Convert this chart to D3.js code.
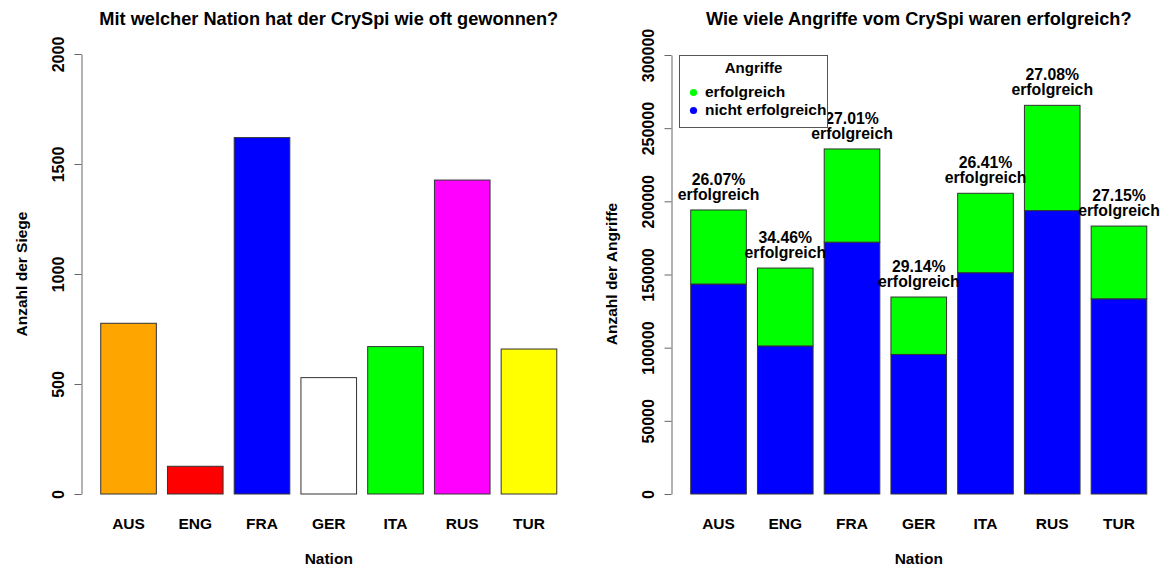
<!DOCTYPE html>
<html>
<head>
<meta charset="utf-8">
<script src="https://cdn.jsdelivr.net/npm/d3@7"></script>
<style>
  html, body { margin: 0; padding: 0; background: #fff; }
  svg { display: block; }
  text { font-family: "Liberation Sans", Arial, Helvetica, sans-serif; font-weight: bold; fill: #000; }
</style>
</head>
<body>
<svg id="chart" width="1168" height="567"></svg>
<script>
// Nationen und Siege des CrySpi
const nationen = ["AUS", "ENG", "FRA", "GER", "ITA", "RUS", "TUR"];
const siege = [776, 126, 1620, 529, 670, 1427, 659];
const siegFarben = ["#ffa500", "#ff0000", "#0000ff", "#ffffff", "#00ff00", "#ff00ff", "#ffff00"];
const siegTicks = [0, 500, 1000, 1500, 2000];

// Angriffe gesamt je Nation und Anteil erfolgreicher Angriffe (in Prozent)
const angriffeGesamt = [194100, 154400, 235800, 134600, 205500, 265600, 183100];
const erfolgsquote = [26.07, 34.46, 27.01, 29.14, 26.41, 27.08, 27.15];
const angriffTicks = [0, 50000, 100000, 150000, 200000, 250000, 300000];
const legendenEintraege = ["erfolgreich", "nicht erfolgreich"];
const legendenFarben = ["#00ff00", "#0000ff"];

const svg = d3.select("#chart");
const plotTop = 54, plotBottom = 494;

function bandScale(left, right) {
  return d3.scaleBand()
    .domain(nationen)
    .range([left, right])
    .paddingInner(1 / 6)
    .paddingOuter(0.273);
}

function yAxis(g, scale, ticks, x) {
  const ax = d3.axisLeft(scale).tickValues(ticks).tickSize(7).tickSizeOuter(0)
    .tickFormat(d3.format("d"));
  g.attr("transform", `translate(${x},0)`).call(ax);
  g.select(".domain").attr("stroke", "#666");
  g.selectAll(".tick line").attr("stroke", "#666");
  g.selectAll(".tick text")
    .attr("x", null).attr("dy", null)
    .attr("transform", "translate(-18,0) rotate(-90)")
    .attr("text-anchor", "middle")
    .style("font-size", "16px");
  g.attr("font-family", null).attr("font-size", null);
}

function xLabels(scale, title) {
  svg.append("g").selectAll("text")
    .data(nationen).join("text")
    .attr("x", d => scale(d) + scale.bandwidth() / 2)
    .attr("y", 529)
    .attr("text-anchor", "middle")
    .style("font-size", "15.5px")
    .text(d => d);
  const [a, b] = scale.range();
  svg.append("text")
    .attr("x", (a + b) / 2).attr("y", 563.5)
    .attr("text-anchor", "middle")
    .style("font-size", "15.5px")
    .text(title);
}

function yTitle(x, text) {
  svg.append("text")
    .attr("transform", `translate(${x},${(plotTop + plotBottom) / 2}) rotate(-90)`)
    .attr("text-anchor", "middle")
    .style("font-size", "15.5px")
    .text(text);
}

function mainTitle(scale, text) {
  const [a, b] = scale.range();
  svg.append("text")
    .attr("x", (a + b) / 2).attr("y", 25)
    .attr("text-anchor", "middle")
    .style("font-size", "18.2px")
    .text(text);
}

// ---- Linkes Diagramm: Siege je Nation ----
const xL = bandScale(82.5, 575);
const yL = d3.scaleLinear().domain([0, 2000]).range([plotBottom, plotTop]);

svg.append("g").selectAll("rect")
  .data(nationen).join("rect")
  .attr("x", d => xL(d))
  .attr("width", xL.bandwidth())
  .attr("y", (d, i) => yL(siege[i]))
  .attr("height", (d, i) => yL(0) - yL(siege[i]))
  .attr("fill", (d, i) => siegFarben[i])
  .attr("stroke", "#333")
  .attr("stroke-width", 1);

yAxis(svg.append("g"), yL, siegTicks, 81.5);
xLabels(xL, "Nation");
yTitle(27, "Anzahl der Siege");
mainTitle(xL, "Mit welcher Nation hat der CrySpi wie oft gewonnen?");

// ---- Rechtes Diagramm: Angriffe gestapelt ----
const xR = bandScale(672.5, 1165);
const yR = d3.scaleLinear().domain([0, 300000]).range([plotBottom, 55]);

const stapel = nationen.map((n, i) => {
  const erfolgreich = angriffeGesamt[i] * erfolgsquote[i] / 100;
  return { nation: n, nichtErfolgreich: angriffeGesamt[i] - erfolgreich, erfolgreich: erfolgreich, quote: erfolgsquote[i] };
});
const series = d3.stack().keys(["nichtErfolgreich", "erfolgreich"])(stapel);
const stapelFarben = { nichtErfolgreich: "#0000ff", erfolgreich: "#00ff00" };

svg.append("g").selectAll("g")
  .data(series).join("g")
  .attr("fill", d => stapelFarben[d.key])
  .selectAll("rect")
  .data(d => d).join("rect")
  .attr("x", d => xR(d.data.nation))
  .attr("width", xR.bandwidth())
  .attr("y", d => yR(d[1]))
  .attr("height", d => yR(d[0]) - yR(d[1]))
  .attr("stroke", "#333")
  .attr("stroke-width", 1);

// Beschriftung über jedem Stapel
const beschriftung = svg.append("g").selectAll("g")
  .data(stapel).join("g")
  .attr("transform", (d, i) => `translate(${xR(d.nation) + xR.bandwidth() / 2},${yR(angriffeGesamt[i])})`);
beschriftung.append("text")
  .attr("y", -25).attr("text-anchor", "middle").style("font-size", "15.8px")
  .text(d => d.quote.toFixed(2) + "%");
beschriftung.append("text")
  .attr("y", -10).attr("text-anchor", "middle").style("font-size", "15.8px")
  .text("erfolgreich");

yAxis(svg.append("g"), yR, angriffTicks, 671.5);
xLabels(xR, "Nation");
yTitle(617, "Anzahl der Angriffe");
mainTitle(xR, "Wie viele Angriffe vom CrySpi waren erfolgreich?");

// Legende
const legende = svg.append("g");
legende.append("rect")
  .attr("x", 679.5).attr("y", 55.5).attr("width", 148).attr("height", 72)
  .attr("fill", "#fff").attr("stroke", "#555").attr("stroke-width", 1);
legende.append("text")
  .attr("x", 753.5).attr("y", 73).attr("text-anchor", "middle")
  .style("font-size", "15px").text("Angriffe");
legende.selectAll("circle")
  .data(legendenEintraege).join("circle")
  .attr("cx", 693.5).attr("cy", (d, i) => 92.5 + i * 18)
  .attr("r", 3.6)
  .attr("fill", (d, i) => legendenFarben[i]);
legende.selectAll("text.eintrag")
  .data(legendenEintraege).join("text")
  .attr("class", "eintrag")
  .attr("x", 705).attr("y", (d, i) => 97 + i * 18)
  .style("font-size", "15.5px")
  .text(d => d);
</script>
</body>
</html>
